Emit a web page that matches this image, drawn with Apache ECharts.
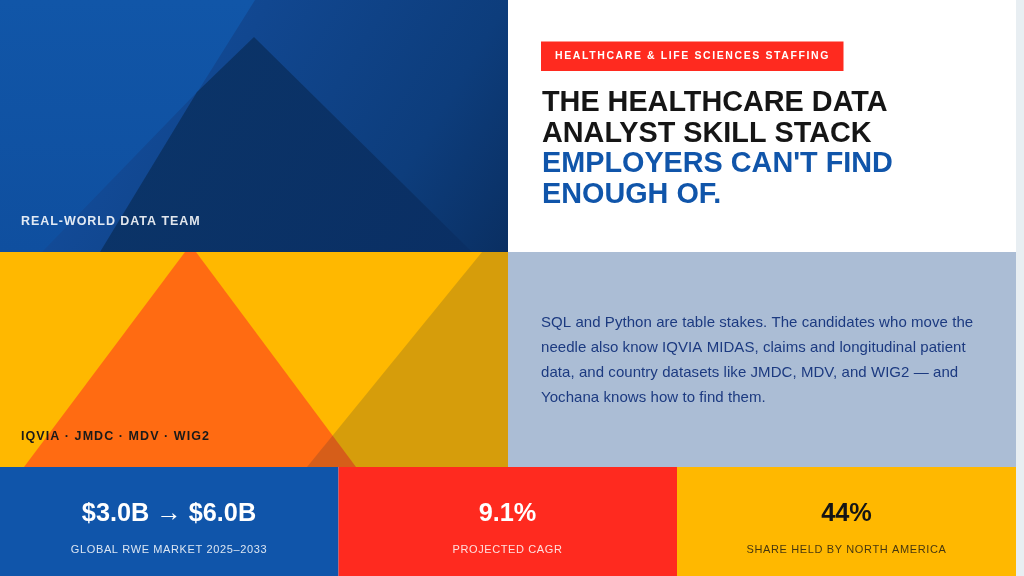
<!DOCTYPE html>
<html>
<head>
<meta charset="utf-8" />
<title>Healthcare data analyst skill stack</title>
<style>
html, body { margin: 0; padding: 0; background: #e8eef2; }
#main { width: 1024px; height: 576px; }
</style>
</head>
<body>
<div id="main"></div>
<script src="https://cdn.jsdelivr.net/npm/echarts@6/dist/echarts.min.js"></script>
<script>
var tagText = ['HEALTHCARE & LIFE SCIENCES STAFFING'];
var headlineDark = ['THE HEALTHCARE DATA', 'ANALYST SKILL STACK'];
var headlineBlue = ["EMPLOYERS CAN'T FIND", 'ENOUGH OF.'];
var bodyLines = [
  'SQL and Python are table stakes. The candidates who move the',
  'needle also know IQVIA MIDAS, claims and longitudinal patient',
  'data, and country datasets like JMDC, MDV, and WIG2 \u2014 and',
  'Yochana knows how to find them.'
];
var captions = ['REAL-WORLD DATA TEAM', 'IQVIA \u00b7 JMDC \u00b7 MDV \u00b7 WIG2'];
var kpiValues = ['$3.0B \u2192 $6.0B', '9.1%', '44%'];
var kpiLabels = ['GLOBAL RWE MARKET 2025\u20132033', 'PROJECTED CAGR', 'SHARE HELD BY NORTH AMERICA'];

// zrender has no letter spacing, so set it on the context per string
var tracking = {};
var fillTextOrig = CanvasRenderingContext2D.prototype.fillText;
CanvasRenderingContext2D.prototype.fillText = function (s, x, y) {
  this.letterSpacing = (tracking[s] || 0) + 'px';
  return fillTextOrig.call(this, s, x, y);
};

var FONT = '"Liberation Sans", Arial, sans-serif';

function rect(x, y, w, h, fill) {
  return { type: 'rect', silent: true, shape: { x: x, y: y, width: w, height: h }, style: { fill: fill } };
}
function poly(points, fill) {
  return { type: 'polygon', silent: true, shape: { points: points }, style: { fill: fill } };
}
function text(s, x, y, size, weight, fill, align, spacing) {
  tracking[s] = spacing || 0;
  return {
    type: 'text', silent: true, x: x, y: y,
    style: {
      text: s, fill: fill, align: align || 'left', verticalAlign: 'middle',
      font: weight + ' ' + size + 'px ' + FONT
    }
  };
}
function linear(x0, y0, x1, y1, stops) {
  return new echarts.graphic.LinearGradient(x0, y0, x1, y1, stops.map(function (s) {
    return { offset: s[0], color: s[1] };
  }));
}

var els = [];
// backgrounds
els.push(rect(0, 0, 1024, 576, '#e8eef2'));
els.push(rect(0, 0, 508, 252, linear(0, 0, 0, 1, [[0, '#1156a8'], [1, '#0f4f9f']])));
els.push(rect(508, 0, 508, 252, '#ffffff'));
els.push(rect(0, 252, 508, 215, '#ffb800'));
els.push(rect(508, 252, 508, 215, '#abbdd5'));
els.push(rect(0, 467, 338.5, 109, '#1055aa'));
els.push(rect(338.5, 467, 338.5, 109, '#ff2a1f'));
els.push(rect(677, 467, 339, 109, '#ffb800'));

// blue panel shapes
els.push(poly([[255, 0], [508, 0], [508, 252], [42, 252], [198, 91]],
  linear(0.2, 0.1, 1, 1, [[0, '#134c9a'], [0.7, '#0d3d7c'], [1, '#0a2f62']])));
els.push(poly([[254, 37], [197, 92], [100, 252], [472, 252]],
  linear(0, 0, 1, 1, [[0, '#0b3569'], [1, '#0a2f64']])));

// gold panel shapes
els.push(poly([[185, 252], [196, 252], [356, 467], [24, 467]], '#ff6b12'));
els.push(poly([[482, 252], [307, 467], [508, 467], [508, 252]], 'rgba(25,40,60,0.18)'));

// captions
els.push(text(captions[0], 21, 221.7, 12.5, 'bold', 'rgba(255,255,255,0.88)', 'left', 0.95));
els.push(text(captions[1], 21, 436.5, 12.5, 'bold', '#1a1a1a', 'left', 1.06));

// tag + headline
els.push(rect(541, 41.5, 302.5, 29.5, '#ff2a1f'));
els.push(text(tagText[0], 555, 56, 10.5, 'bold', '#ffffff', 'left', 1.6));
headlineDark.forEach(function (s, i) {
  els.push(text(s, 542, 103.3 + i * 30.6, 28.8, 'bold', '#151515', 'left', 0));
});
headlineBlue.forEach(function (s, i) {
  els.push(text(s, 542, 164.4 + i * 30.6, 28.8, 'bold', '#1055aa', 'left', 0));
});

// body
bodyLines.forEach(function (s, i) {
  els.push(text(s, 541, 323 + i * 24.8, 15, 'normal', '#1c3a80', 'left', 0.06));
});

// kpi strip
var kpiCenters = [169, 507.5, 846.5];
var kpiColors = ['#ffffff', '#ffffff', '#151515'];
var kpiLabelColors = ['rgba(255,255,255,0.85)', 'rgba(255,255,255,0.85)', 'rgba(20,20,20,0.8)'];
kpiValues.forEach(function (s, i) {
  els.push(text(s, kpiCenters[i], 514.4, 25.3, 'bold', kpiColors[i], 'center', 0));
});
kpiLabels.forEach(function (s, i) {
  els.push(text(s, kpiCenters[i], 549.5, 11, 'normal', kpiLabelColors[i], 'center', 0.62));
});

var myChart = echarts.init(document.getElementById('main'), null, { renderer: 'canvas' });
myChart.setOption({ animation: false, graphic: { elements: els } });
</script>
</body>
</html>
